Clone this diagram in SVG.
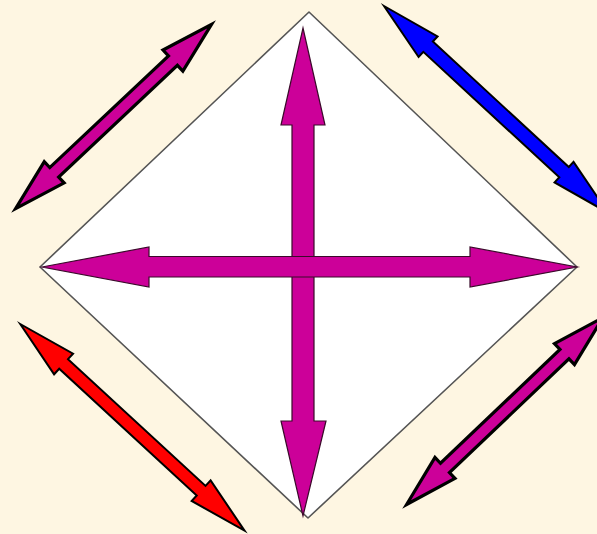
<svg xmlns="http://www.w3.org/2000/svg" width="597" height="534" viewBox="0 0 597 534">
<style>
.bg{fill:#FEF6E2}
.dia{fill:#FFFFFF;stroke:#555555;stroke-width:1.6;stroke-linejoin:round}
.cross{fill:#CC0099;stroke:#3A0A2A;stroke-width:1.2;stroke-linejoin:miter;stroke-miterlimit:20}
.thick{stroke:#000;stroke-width:3.2;stroke-linejoin:miter;stroke-miterlimit:12}
.thin{stroke:#000;stroke-width:2;stroke-linejoin:miter;stroke-miterlimit:12}
.mag{fill:#CC0099}
.blue{fill:#0000FF}
.red{fill:#FF0000}
</style>
<rect class="bg" x="0" y="0" width="597" height="534"/>
<g id="diamond">
<polygon class="dia" points="309,12 577,267 308,518 40,267"/>
</g>
<g id="connectors">
<polygon id="vertical-arrow" class="cross" points="303,28 325,125 314,125 314,421 326,421 303,516 281,421 292,421 292,125 281,125"/>
<polygon id="horizontal-arrow" class="cross" points="42,267 149,247 149,256.5 470,256.5 470,247 577,267 470,287 470,277 149,277 149,287"/>
<path id="arrow-top-left" class="mag thick" transform="translate(15.6,208.6) rotate(-43.25)" d="M0,0 L53,-14.5 L53,-6.5 L216,-6.5 L216,-14.5 L269,0 L216,14.5 L216,6.5 L53,6.5 L53,14.5 Z"/>
<path id="arrow-top-right" class="blue thin" transform="translate(384,6) rotate(42.7)" d="M0,0 L60,-14 L60,-7 L245,-7 L245,-14 L305,0 L245,14 L245,7 L60,7 L60,14 Z"/>
<path id="arrow-bottom-left" class="red thin" transform="translate(20.2,324) rotate(42.65)" d="M0,0 L59,-14 L59,-6.5 L246,-6.5 L246,-14 L305,0 L246,14 L246,6.5 L59,6.5 L59,14 Z"/>
<path id="arrow-bottom-right" class="mag thick" transform="translate(406.6,504.5) rotate(-43.6)" d="M0,0 L53,-14.5 L53,-6.5 L218,-6.5 L218,-14.5 L271,0 L218,14.5 L218,6.5 L53,6.5 L53,14.5 Z"/>
</g>
</svg>
